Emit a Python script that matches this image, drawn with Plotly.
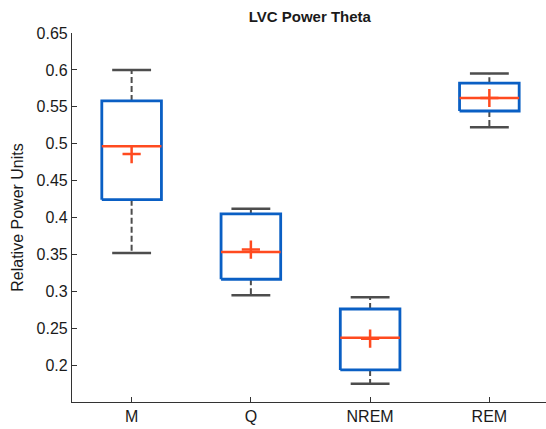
import plotly.graph_objects as go

# Summary statistics per vigilance state
categories = ["M", "Q", "NREM", "REM"]
upper_whisker = [0.600, 0.412, 0.292, 0.595]
q3 = [0.558, 0.405, 0.276, 0.582]
median = [0.4965, 0.3533, 0.2371, 0.5619]
q1 = [0.4241, 0.3163, 0.1934, 0.5443]
lower_whisker = [0.3519, 0.2946, 0.1748, 0.5222]
means = [0.486, 0.3565, 0.2358, 0.5619]

BOX_BLUE = "#0A5FC4"
MED_RED = "#FF4A1F"
WHISK_GRAY = "#4D4D4D"
box_half = 0.25
cap_half = 0.163

fig = go.Figure()

for i, cat in enumerate(categories):
    x = i + 1
    # whiskers (dashed)
    fig.add_trace(go.Scatter(
        x=[x, x, None, x, x],
        y=[q3[i], upper_whisker[i], None, q1[i], lower_whisker[i]],
        mode="lines", line=dict(color=WHISK_GRAY, width=2, dash="6px,3px"),
        hoverinfo="skip", showlegend=False))
    # caps
    fig.add_trace(go.Scatter(
        x=[x - cap_half, x + cap_half, None, x - cap_half, x + cap_half],
        y=[upper_whisker[i], upper_whisker[i], None, lower_whisker[i], lower_whisker[i]],
        mode="lines", line=dict(color=WHISK_GRAY, width=2.5),
        hoverinfo="skip", showlegend=False))
    # box
    fig.add_trace(go.Scatter(
        x=[x - box_half, x + box_half, x + box_half, x - box_half, x - box_half],
        y=[q1[i], q1[i], q3[i], q3[i], q1[i]],
        mode="lines", line=dict(color=BOX_BLUE, width=2.8),
        hoverinfo="skip", showlegend=False))
    # median
    fig.add_trace(go.Scatter(
        x=[x - box_half, x + box_half], y=[median[i], median[i]],
        mode="lines", line=dict(color=MED_RED, width=2.5),
        hoverinfo="skip", showlegend=False))

# means
fig.add_trace(go.Scatter(
    x=list(range(1, len(categories) + 1)), y=means, mode="markers",
    marker=dict(symbol="cross-thin", size=13, line=dict(color=MED_RED, width=2.5)),
    hoverinfo="skip", showlegend=False))

FONT = "Liberation Sans, Arial, sans-serif"
axis_font = dict(family=FONT, size=16, color="#1a1a1a")

fig.update_layout(
    width=546, height=429,
    margin=dict(l=72, r=0, t=33, b=27),
    paper_bgcolor="white", plot_bgcolor="white",
    title=dict(text="<b>LVC Power Theta</b>", x=0.5675, xanchor="center", y=0.962, yanchor="middle",
               font=dict(family=FONT, size=15, color="#1a1a1a")),
    xaxis=dict(range=[0.5, 4.475], tickvals=[1, 2, 3, 4], ticktext=categories,
               showgrid=False, zeroline=False, showline=True, linecolor="#333333", linewidth=1.2,
               ticks="inside", ticklen=5, tickcolor="#333333", tickfont=axis_font),
    yaxis=dict(range=[0.15, 0.65], tickvals=[0.2, 0.25, 0.3, 0.35, 0.4, 0.45, 0.5, 0.55, 0.6, 0.65],
               ticktext=["0.2", "0.25", "0.3", "0.35", "0.4", "0.45", "0.5", "0.55", "0.6", "0.65"],
               showgrid=False, zeroline=False, showline=True, linecolor="#333333", linewidth=1.2,
               ticks="inside", ticklen=5, tickcolor="#333333", tickfont=axis_font,
               title=dict(text="Relative Power Units", standoff=8,
                          font=dict(family=FONT, size=16, color="#1a1a1a"))),
)

fig.write_html("out.html")
